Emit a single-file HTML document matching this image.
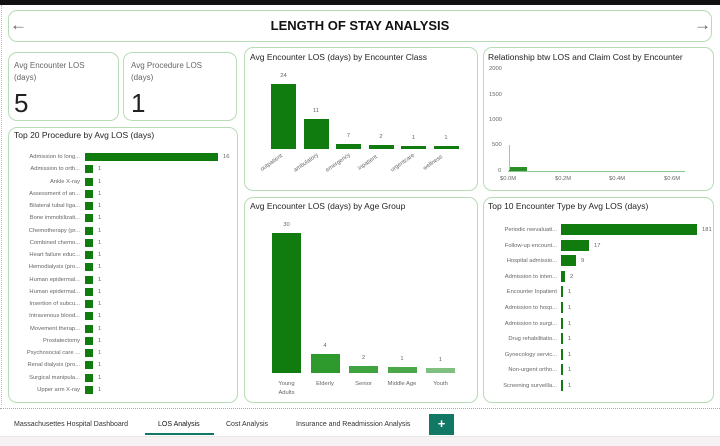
<!DOCTYPE html>
<html><head><meta charset="utf-8"><style>
*{margin:0;padding:0;box-sizing:border-box}
body{width:720px;height:446px;overflow:hidden;background:#fff;font-family:"Liberation Sans",sans-serif;position:relative}
.p{position:absolute;border:1px solid #b7dcb5;border-radius:9px;background:#fff}
.t{position:absolute;font-size:8.5px;color:#252423;white-space:nowrap}
.a{position:absolute;font-size:5.8px;color:#666;white-space:nowrap}
.b{position:absolute;background:#107c10}
</style></head><body>
<div style="position:absolute;left:0;top:0;width:720px;height:5px;background:#111"></div>
<div style="position:absolute;left:1px;top:5px;width:1px;height:400px;border-left:1px dotted #bbb"></div>
<div class="p" style="left:8px;top:10px;width:704px;height:32px"></div>
<div class="t" style="left:10px;top:15px;font-size:17px;color:#666">&larr;</div>
<div class="t" style="left:694px;top:15px;font-size:17px;color:#666">&rarr;</div>
<div class="t" style="left:0;width:720px;text-align:center;top:18px;font-size:13px;font-weight:bold;color:#111">LENGTH OF STAY ANALYSIS</div>

<div class="p" style="left:8px;top:52px;width:111px;height:69px"></div>
<div class="t" style="left:14px;top:60px;font-size:8px;color:#666;white-space:normal;width:90px;line-height:12px">Avg Encounter LOS (days)</div>
<div class="t" style="left:14px;top:88px;font-size:26px;color:#222">5</div>
<div class="p" style="left:123px;top:52px;width:114px;height:69px"></div>
<div class="t" style="left:131px;top:60px;font-size:8px;color:#666;white-space:normal;width:90px;line-height:12px">Avg Procedure LOS (days)</div>
<div class="t" style="left:131px;top:88px;font-size:26px;color:#222">1</div>

<div class="p" style="left:8px;top:127px;width:230px;height:276px"></div>
<div class="t" style="left:14px;top:130px">Top 20 Procedure by Avg LOS (days)</div>
<div id="t20"></div>

<div class="p" style="left:244px;top:47px;width:234px;height:144px"></div>
<div class="t" style="left:250px;top:52px">Avg Encounter LOS (days) by Encounter Class</div>
<div id="ec"></div>

<div class="p" style="left:483px;top:47px;width:231px;height:144px"></div>
<div class="t" style="left:488px;top:52px">Relationship btw LOS and Claim Cost by Encounter</div>
<div class="a" style="left:489px;top:66px">2000</div>
<div class="a" style="left:489px;top:92px">1500</div>
<div class="a" style="left:489px;top:117px">1000</div>
<div class="a" style="left:492px;top:142px">500</div>
<div class="a" style="left:498px;top:168px">0</div>
<div style="position:absolute;left:508px;top:171px;width:177px;height:1px;background:#8fc88f"></div>
<div style="position:absolute;left:509px;top:167px;width:18px;height:4px;background:#2a8f2a"></div>
<div style="position:absolute;left:509px;top:145px;width:1px;height:25px;background:#9c9"></div>
<div class="a" style="left:500px;top:176px">$0.0M</div>
<div class="a" style="left:555px;top:176px">$0.2M</div>
<div class="a" style="left:609px;top:176px">$0.4M</div>
<div class="a" style="left:664px;top:176px">$0.6M</div>

<div class="p" style="left:244px;top:197px;width:234px;height:206px"></div>
<div class="t" style="left:250px;top:201px">Avg Encounter LOS (days) by Age Group</div>
<div id="ag"></div>

<div class="p" style="left:483px;top:197px;width:231px;height:206px"></div>
<div class="t" style="left:488px;top:201px">Top 10 Encounter Type by Avg LOS (days)</div>
<div id="t10"></div>

<div style="position:absolute;left:0;top:408px;width:720px;border-top:1px dotted #aaa"></div>
<div style="position:absolute;left:0;top:410px;width:720px;height:27px;background:#fff;border-bottom:1px solid #e8e8e8"></div>
<div style="position:absolute;left:0;top:437px;width:720px;height:9px;background:#f6f1f3"></div>
<div class="t" style="left:14px;top:421px;font-size:7px;color:#333">Massachusettes Hospital Dashboard</div>
<div class="t" style="left:158px;top:421px;font-size:7px;color:#111">LOS Analysis</div>
<div style="position:absolute;left:145px;top:433px;width:69px;height:2px;background:#117865"></div>
<div class="t" style="left:226px;top:421px;font-size:7px;color:#333">Cost Analysis</div>
<div class="t" style="left:296px;top:421px;font-size:7px;color:#333">Insurance and Readmission Analysis</div>
<div style="position:absolute;left:429px;top:414px;width:25px;height:21px;background:#117865;color:#fff;font-weight:bold;text-align:center;line-height:20px;font-size:13px">+</div>
<script>
function h(id,s){document.getElementById(id).innerHTML=s}
var L=["Admission to long...","Admission to orth...","Ankle X-ray","Assessment of an...","Bilateral tubal liga...","Bone immobilizati...","Chemotherapy (pr...","Combined chemo...","Heart failure educ...","Hemodialysis (pro...","Human epidermal...","Human epidermal...","Insertion of subcu...","Intravenous blood...","Movement therap...","Prostatectomy","Psychosocial care ...","Renal dialysis (pro...","Surgical manipula...","Upper arm X-ray"];
var s="";L.forEach(function(l,i){var y=153+i*12.25,w=i?8:133;
s+='<div class="a" style="right:640px;top:'+(y+1)+'px">'+l+'</div><div class="b" style="left:85px;top:'+y+'px;width:'+w+'px;height:8px"></div><div class="a" style="left:'+(85+w+5)+'px;top:'+(y+1)+'px">'+(i?1:16)+'</div>'});h("t20",s);
var E=[["outpatient",84,24],["ambulatory",119,11],["emergency",144,2],["inpatient",145,2],["urgentcare",146,1],["wellness",146,1]];s="";
E.forEach(function(e,i){var x=271+i*32.5;s+='<div class="b" style="left:'+x+'px;top:'+e[1]+'px;width:25px;height:'+(149-e[1])+'px"></div><div class="a" style="left:'+x+'px;width:25px;text-align:center;top:'+(e[1]-11)+'px">'+(i==2?7:e[2])+'</div><div class="a" style="left:'+(x-12)+'px;top:160px;transform:rotate(-35deg)">'+e[0]+'</div>'});h("ec",s);
var A=[["Young<br>Adults",233,30,"#107c10"],["Elderly",354,4,"#2e9a2e"],["Senior",366,2,"#3fa33f"],["Middle Age",367,1,"#4aa84a"],["Youth",368,1,"#7fbf7f"]];s="";
A.forEach(function(e,i){var x=272+i*38.5;s+='<div style="position:absolute;background:'+e[3]+';left:'+x+'px;top:'+e[1]+'px;width:29px;height:'+(373-e[1])+'px"></div><div class="a" style="left:'+x+'px;width:29px;text-align:center;top:'+(e[1]-11)+'px">'+e[2]+'</div><div class="a" style="left:'+(x-6)+'px;width:41px;text-align:center;top:380px;line-height:9px">'+e[0]+'</div>'});h("ag",s);
var T=[["Periodic reevaluati...",136,181],["Follow-up encount...",28,17],["Hospital admissio...",15,9],["Admission to inten...",4,2],["Encounter Inpatient",2,1],["Admission to hosp...",2,1],["Admission to surgi...",2,1],["Drug rehabilitatio...",2,1],["Gynecology servic...",2,1],["Non-urgent ortho...",2,1],["Screening surveilla...",2,1]];s="";
T.forEach(function(e,i){var y=224+i*15.6;s+='<div class="a" style="right:163px;top:'+(y+3)+'px">'+e[0]+'</div><div class="b" style="left:561px;top:'+y+'px;width:'+e[1]+'px;height:11px"></div><div class="a" style="left:'+(561+e[1]+5)+'px;top:'+(y+3)+'px">'+e[2]+'</div>'});h("t10",s);
</script>
</body></html>
